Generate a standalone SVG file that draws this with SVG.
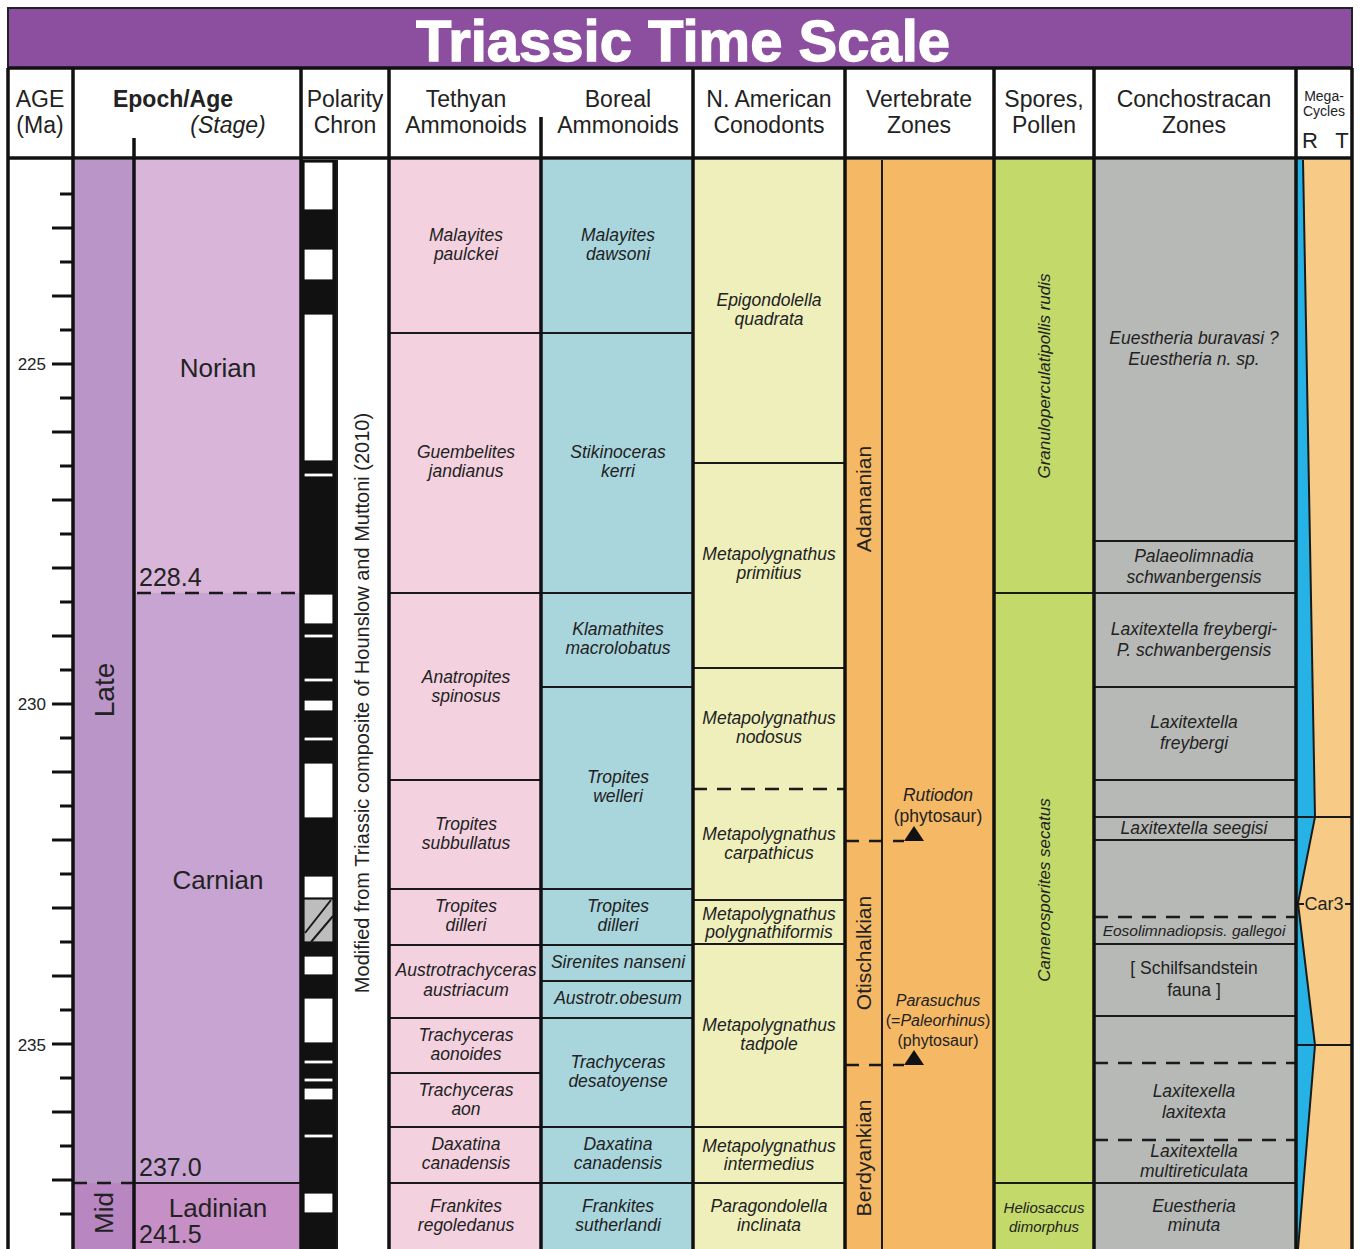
<svg xmlns="http://www.w3.org/2000/svg" width="1360" height="1249" viewBox="0 0 1360 1249">
<style>
text{font-family:'Liberation Sans',Arial,sans-serif;fill:#222}
.h{font-size:23px;text-anchor:middle}
.i{font-size:17.5px;font-style:italic;text-anchor:middle}
.n{font-size:17.5px;text-anchor:middle}
.s{font-size:15.5px;font-style:italic;text-anchor:middle}
.ln{stroke:#1a1a1a;stroke-width:2;fill:none}
.k{stroke:#111;stroke-width:3.5;fill:none}
.d{stroke:#1a1a1a;stroke-width:2.5;stroke-dasharray:14 10;fill:none}
.tk{stroke:#111;stroke-width:3}
.w{fill:#fff;stroke:#111;stroke-width:1.2}
</style>
<rect width="1360" height="1249" fill="#fff"/>
<g id="title">
<rect x="8" y="8" width="1344" height="60" fill="#8c4f9f" stroke="#222" stroke-width="2"/>
<text x="683" y="61" font-size="58" font-weight="bold" text-anchor="middle" style="fill:#fff;stroke:#fff;stroke-width:1.3">Triassic Time Scale</text>
</g>
<g id="headers">
<text class="h" x="40" y="107">AGE</text><text class="h" x="40" y="133">(Ma)</text>
<text class="h" x="173" y="107" font-weight="bold">Epoch/Age</text><text class="h" x="228" y="133" font-style="italic">(Stage)</text>
<text class="h" x="345" y="107">Polarity</text><text class="h" x="345" y="133">Chron</text>
<text class="h" x="466" y="107">Tethyan</text><text class="h" x="466" y="133">Ammonoids</text>
<text class="h" x="618" y="107">Boreal</text><text class="h" x="618" y="133">Ammonoids</text>
<text class="h" x="769" y="107">N. American</text><text class="h" x="769" y="133">Conodonts</text>
<text class="h" x="919" y="107">Vertebrate</text><text class="h" x="919" y="133">Zones</text>
<text class="h" x="1044" y="107">Spores,</text><text class="h" x="1044" y="133">Pollen</text>
<text class="h" x="1194" y="107">Conchostracan</text><text class="h" x="1194" y="133">Zones</text>
<text x="1324" y="101" font-size="14" text-anchor="middle">Mega-</text><text x="1324" y="116" font-size="14" text-anchor="middle">Cycles</text>
<text x="1310" y="148" font-size="22" text-anchor="middle">R</text><text x="1342" y="148" font-size="22" text-anchor="middle">T</text>
</g>
<g id="age-scale">
<text x="46" y="370" font-size="17" text-anchor="end">225</text>
<text x="46" y="710" font-size="17" text-anchor="end">230</text>
<text x="46" y="1051" font-size="17" text-anchor="end">235</text>
<path class="tk" d="M60 194H73M52 228H73M60 262H73M52 296H73M60 330H73M52 364H73M60 398H73M52 432H73M60 466H73M52 500H73M60 534H73M52 568H73M60 602H73M52 636H73M60 670H73M52 704H73M60 738H73M52 772H73M60 806H73M52 840H73M60 874H73M52 908H73M60 942H73M52 976H73M60 1010H73M52 1044H73M60 1078H73M52 1112H73M60 1146H73M52 1180H73M60 1214H73"/>
</g>
<g id="epoch-late"><rect x="73" y="160" width="61" height="1023" fill="#b995c8"/><text x="114" y="690" font-size="28" text-anchor="middle" transform="rotate(-90 114 690)">Late</text></g>
<g id="epoch-mid"><rect x="73" y="1183" width="61" height="66" fill="#b887c2"/><text x="113" y="1213" font-size="26" text-anchor="middle" transform="rotate(-90 113 1213)">Mid</text></g>
<g id="stage-norian"><rect x="134" y="160" width="167" height="433" fill="#d8b5d9"/><text x="218" y="377" font-size="26" text-anchor="middle">Norian</text><text x="139" y="586" font-size="25">228.4</text></g>
<g id="stage-carnian"><rect x="134" y="593" width="167" height="590" fill="#c8a4d2"/><text x="218" y="889" font-size="26" text-anchor="middle">Carnian</text><text x="139" y="1176" font-size="25">237.0</text></g>
<g id="stage-ladinian"><rect x="134" y="1183" width="167" height="66" fill="#c690c7"/><text x="218" y="1217" font-size="26" text-anchor="middle">Ladinian</text><text x="139" y="1243" font-size="25">241.5</text></g>
<g id="polarity">
<rect x="301" y="160" width="36" height="1089" fill="#111"/>
<rect class="w" x="304" y="162" width="29" height="48"/>
<rect class="w" x="304" y="249" width="29" height="31"/>
<rect class="w" x="304" y="314" width="29" height="147"/>
<rect class="w" x="304" y="473" width="29" height="4"/>
<rect class="w" x="304" y="594" width="29" height="30"/>
<rect class="w" x="304" y="634" width="29" height="4"/>
<rect class="w" x="304" y="678" width="29" height="4"/>
<rect class="w" x="304" y="700" width="29" height="11"/>
<rect class="w" x="304" y="737" width="29" height="4"/>
<rect class="w" x="304" y="763" width="29" height="55"/>
<rect class="w" x="304" y="876" width="29" height="22"/>
<rect x="304" y="899" width="29" height="43" fill="#bdbdbd" stroke="#111" stroke-width="1.2"/>
<path class="ln" d="M305 933L331 900M311 942L333 916"/>
<rect class="w" x="304" y="956" width="29" height="19"/>
<rect class="w" x="304" y="998" width="29" height="45"/>
<rect class="w" x="304" y="1060" width="29" height="4"/>
<rect class="w" x="304" y="1078" width="29" height="4"/>
<rect class="w" x="304" y="1088" width="29" height="12"/>
<rect class="w" x="304" y="1134" width="29" height="4"/>
<rect class="w" x="304" y="1193" width="29" height="20"/>
<text x="369" y="703" font-size="20" text-anchor="middle" transform="rotate(-90 369 703)">Modified from Triassic composite of Hounslow and Muttoni (2010)</text>
</g>
<g id="tethyan">
<rect x="389" y="160" width="152" height="1089" fill="#f3d1df"/>
<text class="i" x="466" y="241">Malayites</text><text class="i" x="466" y="260">paulckei</text>
<text class="i" x="466" y="458">Guembelites</text><text class="i" x="466" y="477">jandianus</text>
<text class="i" x="466" y="683">Anatropites</text><text class="i" x="466" y="702">spinosus</text>
<text class="i" x="466" y="830">Tropites</text><text class="i" x="466" y="849">subbullatus</text>
<text class="i" x="466" y="912">Tropites</text><text class="i" x="466" y="931">dilleri</text>
<text class="i" x="466" y="976">Austrotrachyceras</text><text class="i" x="466" y="996">austriacum</text>
<text class="i" x="466" y="1041">Trachyceras</text><text class="i" x="466" y="1060">aonoides</text>
<text class="i" x="466" y="1096">Trachyceras</text><text class="i" x="466" y="1115">aon</text>
<text class="i" x="466" y="1150">Daxatina</text><text class="i" x="466" y="1169">canadensis</text>
<text class="i" x="466" y="1212">Frankites</text><text class="i" x="466" y="1231">regoledanus</text>
</g>
<g id="boreal">
<rect x="541" y="160" width="152" height="1089" fill="#a9d5dd"/>
<text class="i" x="618" y="241">Malayites</text><text class="i" x="618" y="260">dawsoni</text>
<text class="i" x="618" y="458">Stikinoceras</text><text class="i" x="618" y="477">kerri</text>
<text class="i" x="618" y="635">Klamathites</text><text class="i" x="618" y="654">macrolobatus</text>
<text class="i" x="618" y="783">Tropites</text><text class="i" x="618" y="802">welleri</text>
<text class="i" x="618" y="912">Tropites</text><text class="i" x="618" y="931">dilleri</text>
<text class="i" x="618" y="968">Sirenites nanseni</text>
<text class="i" x="618" y="1004">Austrotr.obesum</text>
<text class="i" x="618" y="1068">Trachyceras</text><text class="i" x="618" y="1087">desatoyense</text>
<text class="i" x="618" y="1150">Daxatina</text><text class="i" x="618" y="1169">canadensis</text>
<text class="i" x="618" y="1212">Frankites</text><text class="i" x="618" y="1231">sutherlandi</text>
</g>
<g id="conodonts">
<rect x="693" y="160" width="152" height="1089" fill="#eeefbb"/>
<text class="i" x="769" y="306">Epigondolella</text><text class="i" x="769" y="325">quadrata</text>
<text class="i" x="769" y="560">Metapolygnathus</text><text class="i" x="769" y="579">primitius</text>
<text class="i" x="769" y="724">Metapolygnathus</text><text class="i" x="769" y="743">nodosus</text>
<text class="i" x="769" y="840">Metapolygnathus</text><text class="i" x="769" y="859">carpathicus</text>
<text class="i" x="769" y="920">Metapolygnathus</text><text class="i" x="769" y="938">polygnathiformis</text>
<text class="i" x="769" y="1031">Metapolygnathus</text><text class="i" x="769" y="1050">tadpole</text>
<text class="i" x="769" y="1152">Metapolygnathus</text><text class="i" x="769" y="1170">intermedius</text>
<text class="i" x="769" y="1212">Paragondolella</text><text class="i" x="769" y="1231">inclinata</text>
</g>
<g id="vertebrate">
<rect x="845" y="160" width="149" height="1089" fill="#f5b865"/>
<text x="871" y="499" font-size="21" text-anchor="middle" transform="rotate(-90 871 499)">Adamanian</text>
<text x="871" y="953" font-size="21" text-anchor="middle" transform="rotate(-90 871 953)">Otischalkian</text>
<text x="871" y="1158" font-size="21" text-anchor="middle" transform="rotate(-90 871 1158)">Berdyankian</text>
<text class="i" x="938" y="801">Rutiodon</text><text class="n" x="938" y="822">(phytosaur)</text>
<text x="938" y="1006" font-size="16" font-style="italic" text-anchor="middle">Parasuchus</text>
<text x="938" y="1026" font-size="16" text-anchor="middle">(=<tspan font-style="italic">Paleorhinus</tspan>)</text>
<text x="938" y="1046" font-size="16" text-anchor="middle">(phytosaur)</text>
<path d="M904 841L914 826L924 841Z" fill="#111"/>
<path d="M904 1065L914 1050L924 1065Z" fill="#111"/>
</g>
<g id="spores">
<rect x="994" y="160" width="100" height="1089" fill="#c3d96a"/>
<text x="1050" y="376" font-size="17" font-style="italic" text-anchor="middle" transform="rotate(-90 1050 376)">Granuloperculatipollis rudis</text>
<text x="1050" y="890" font-size="17" font-style="italic" text-anchor="middle" transform="rotate(-90 1050 890)">Camerosporites secatus</text>
<text x="1044" y="1213" font-size="15" font-style="italic" text-anchor="middle">Heliosaccus</text><text x="1044" y="1232" font-size="15" font-style="italic" text-anchor="middle">dimorphus</text>
</g>
<g id="conchostracan">
<rect x="1094" y="160" width="202" height="1089" fill="#b7b9b6"/>
<text class="i" x="1194" y="344">Euestheria buravasi ?</text><text class="i" x="1194" y="365">Euestheria n. sp.</text>
<text class="i" x="1194" y="562">Palaeolimnadia</text><text class="i" x="1194" y="583">schwanbergensis</text>
<text class="i" x="1194" y="635">Laxitextella freybergi-</text><text class="i" x="1194" y="656">P. schwanbergensis</text>
<text class="i" x="1194" y="728">Laxitextella</text><text class="i" x="1194" y="749">freybergi</text>
<text class="i" x="1194" y="834">Laxitextella seegisi</text>
<text class="s" x="1194" y="936">Eosolimnadiopsis. gallegoi</text>
<text class="n" x="1194" y="974">[ Schilfsandstein</text><text class="n" x="1194" y="996">fauna ]</text>
<text class="i" x="1194" y="1097">Laxitexella</text><text class="i" x="1194" y="1118">laxitexta</text>
<text class="i" x="1194" y="1157">Laxitextella</text><text class="i" x="1194" y="1177">multireticulata</text>
<text class="i" x="1194" y="1212">Euestheria</text><text class="i" x="1194" y="1231">minuta</text>
</g>
<g id="megacycles">
<rect x="1296" y="160" width="56" height="1089" fill="#f7cb86"/>
<path d="M1296 160H1303L1315 817L1298 903L1315 1045L1298 1249H1296Z" fill="#27b2e6"/>
<path class="ln" d="M1303 160L1315 817L1298 903L1315 1045L1298 1249"/>
<text x="1324" y="910" font-size="18" text-anchor="middle">Car3</text>
<path class="ln" d="M1298 904H1304M1345 904H1352"/>
</g>
<g id="connectors">
<path class="ln" d="M389 333H693M389 593H693M389 780H541M389 889H693M389 945H693M389 1018H693M389 1073H541M389 1127H845M134 1183H301M389 1183H845M541 687H693M541 981H693"/>
<path class="ln" d="M693 463H845M693 668H845M693 900H845M693 944H845"/>
<path class="ln" d="M994 593H1296M994 1183H1296M1094 541H1296M1094 687H1296M1094 780H1296M1094 817H1352M1094 840H1296M1094 944H1296M1094 1016H1296M1296 1045H1352"/>
<path class="d" d="M137 593H301M73 1183H134M693 789H845M1094 917H1296M1094 1063H1296M1094 1140H1296"/>
<path class="d" d="M845 841H904M845 1065H904" stroke-dasharray="18 12"/>
<path class="ln" d="M882 160V1249" stroke-width="2"/>
<path class="ln" d="M337 160V1249" stroke-width="2.5"/>
<path class="k" d="M8 68H1352M8 158H1352"/>
<path class="k" d="M8 68V1249M73 68V1249M301 68V1249M389 68V1249M693 68V1249M845 68V1249M994 68V1249M1094 68V1249M1296 68V1249M1352 68V1249M541 117V1249M134 138V1249"/>
</g>
</svg>
